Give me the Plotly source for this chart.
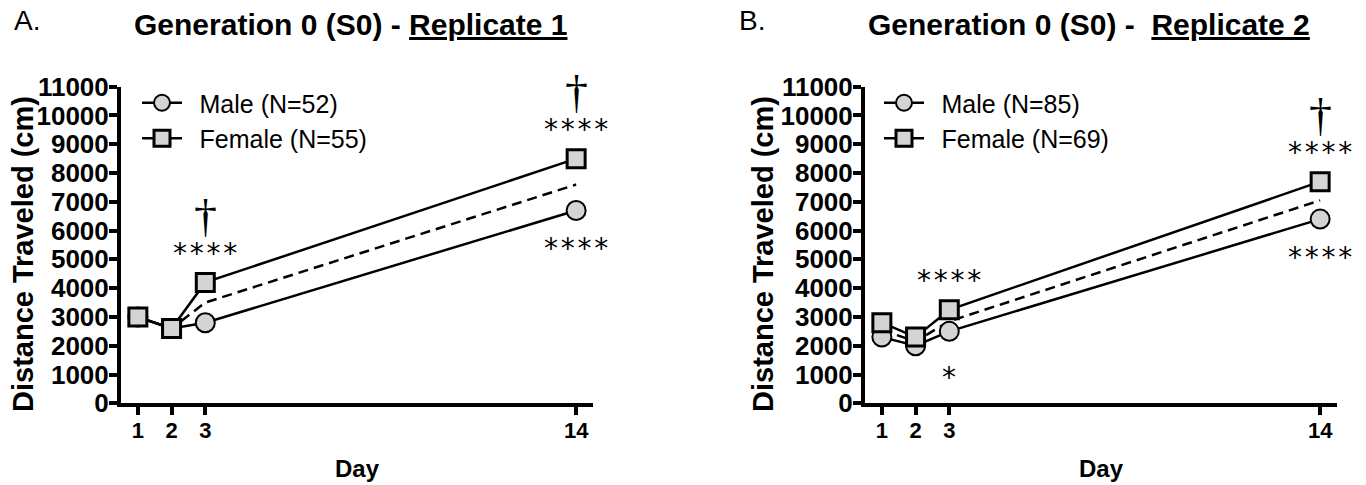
import plotly.graph_objects as go

# ---------------- data ----------------
days = [1, 2, 3, 14]
day_tick_text = ["1", "2", "3", "14"]
y_tick_vals = [0, 1000, 2000, 3000, 4000, 5000, 6000, 7000, 8000, 9000, 10000, 11000]
y_tick_text = ["0", "1000", "2000", "3000", "4000", "5000", "6000", "7000", "8000", "9000", "10000", "11000"]

rep1_male = [3000, 2600, 2800, 6700]
rep1_female = [3000, 2600, 4200, 8500]
rep1_mean = [3000, 2600, 3500, 7600]

rep2_male = [2300, 2000, 2500, 6400]
rep2_female = [2800, 2300, 3250, 7700]
rep2_mean = [2550, 2150, 2850, 7050]

rep1_names = ["Male (N=52)", "Female (N=55)"]
rep2_names = ["Male (N=85)", "Female (N=69)"]

panel_letters = ["A.", "B."]
panel_title_plain = ["Generation 0 (S0) - ", "Generation 0 (S0) -\u00a0 "]
panel_title_under = ["Replicate 1", "Replicate 2"]
y_title = "Distance Traveled (cm)"
x_title = "Day"

# significance marks: (panel, series, day index, text, kind)
sig_marks = [
    (0, "female", 2, "****", "above"),
    (0, "female", 2, "\u2020", "dagger"),
    (0, "female", 3, "****", "above"),
    (0, "female", 3, "\u2020", "dagger"),
    (0, "male", 3, "****", "below"),
    (1, "female", 2, "****", "above"),
    (1, "male", 2, "*", "below1"),
    (1, "female", 3, "****", "above"),
    (1, "female", 3, "\u2020", "dagger"),
    (1, "male", 3, "****", "below"),
]

# ---------------- style ----------------
W, H = 1366, 485
FONT = "Liberation Sans, Arial, sans-serif"
NARROW = "Liberation Sans Narrow, Liberation Sans, Arial, sans-serif"
GREY = "#d4d4d4"
BLACK = "#000000"

panels = [
    dict(male=rep1_male, female=rep1_female, mean=rep1_mean, names=rep1_names,
         xdom=(121, 593), legend="legend", lx=137, xa="x", ya="y", ytitle_x=23, title_x=350, letter_x=27),
    dict(male=rep2_male, female=rep2_female, mean=rep2_mean, names=rep2_names,
         xdom=(865, 1337), legend="legend2", lx=879, xa="x2", ya="y2", ytitle_x=763, title_x=1089, letter_x=752),
]
ydom_px = (86.7, 403.3)

fig = go.Figure()

for p in panels:
    fig.add_trace(go.Scatter(
        x=days, y=p["mean"], mode="lines", showlegend=False,
        line=dict(color=BLACK, width=2.5, dash="10px,6px"),
        xaxis=p["xa"], yaxis=p["ya"], hoverinfo="skip"))
    fig.add_trace(go.Scatter(
        x=days, y=p["male"], mode="lines+markers", name="\u2002" + p["names"][0],
        legend=p["legend"],
        line=dict(color=BLACK, width=2.5),
        marker=dict(symbol="circle", size=19, color=GREY, line=dict(color=BLACK, width=2)),
        xaxis=p["xa"], yaxis=p["ya"], cliponaxis=False))
    fig.add_trace(go.Scatter(
        x=days, y=p["female"], mode="lines+markers", name="\u2002" + p["names"][1],
        legend=p["legend"],
        line=dict(color=BLACK, width=2.5),
        marker=dict(symbol="square", size=18, color=GREY, line=dict(color=BLACK, width=3)),
        xaxis=p["xa"], yaxis=p["ya"], cliponaxis=False))

ylo = (H - ydom_px[1]) / H
yhi = (H - ydom_px[0]) / H

axis_common = dict(showgrid=False, zeroline=False, showline=True, linecolor=BLACK, linewidth=4,
                   ticks="outside", ticklen=8, tickwidth=4, tickcolor=BLACK, fixedrange=True,
                   automargin=False)

layout = dict(
    width=W, height=H, margin=dict(l=0, r=0, t=0, b=0, pad=0, autoexpand=False),
    paper_bgcolor="white", plot_bgcolor="white",
    font=dict(family=FONT, color=BLACK),
    showlegend=True,
)
annotations = []
for i, p in enumerate(panels):
    sfx = "" if i == 0 else "2"
    layout["xaxis" + sfx] = dict(
        axis_common, domain=[p["xdom"][0] / W, p["xdom"][1] / W], range=[0.5, 14.5],
        tickmode="array", tickvals=days, ticktext=day_tick_text,
        tickfont=dict(family=FONT, size=22, weight="bold"), ticklabelstandoff=-4,
        anchor="y" + sfx)
    layout["yaxis" + sfx] = dict(
        axis_common, domain=[ylo, yhi], range=[0, 11000],
        tickmode="array", tickvals=y_tick_vals, ticktext=y_tick_text,
        tickfont=dict(family=NARROW, size=26, weight="bold"), ticklabelstandoff=-5,
        anchor="x" + sfx)
    layout[p["legend"]] = dict(
        x=p["lx"] / W, y=(H - 80) / H, xanchor="left", yanchor="top",
        bgcolor="rgba(0,0,0,0)", font=dict(family=FONT, size=25, color=BLACK),
        itemwidth=40, tracegroupgap=0, itemclick=False, itemdoubleclick=False)
    # titles
    annotations.append(dict(
        text=panel_letters[i], x=p["letter_x"] / W, y=(H - 21) / H, xref="paper", yref="paper",
        showarrow=False, xanchor="center", yanchor="middle",
        font=dict(family=FONT, size=28, color=BLACK)))
    annotations.append(dict(
        text=panel_title_plain[i] + '<span style="text-decoration:underline">' + panel_title_under[i] + "</span>",
        x=p["title_x"] / W, y=(H - 24) / H, xref="paper", yref="paper",
        showarrow=False, xanchor="center", yanchor="middle",
        font=dict(family=FONT, size=30, weight="bold", color=BLACK)))
    annotations.append(dict(
        text=y_title, textangle=-90, x=p["ytitle_x"] / W, y=(H - 254) / H, xref="paper", yref="paper",
        showarrow=False, xanchor="center", yanchor="middle",
        font=dict(family=FONT, size=29, weight="bold", color=BLACK)))
    annotations.append(dict(
        text=x_title, x=0.5, y=(H - 468) / H, xref=("x" + sfx) + " domain", yref="paper",
        showarrow=False, xanchor="center", yanchor="middle",
        font=dict(family=FONT, size=24, weight="bold", color=BLACK)))

shift = {"above": 29, "dagger": 66, "below": -38, "below1": -46}
for (pi, series, di, text, kind) in sig_marks:
    p = panels[pi]
    sfx = "" if pi == 0 else "2"
    if kind == "dagger":
        fnt = dict(family="Liberation Serif, serif", size=46, color=BLACK)
    else:
        fnt = dict(family="DejaVu Sans, sans-serif", size=28, color=BLACK)
    txt = "\u200a".join(text) if len(text) > 1 else text
    annotations.append(dict(
        text=txt, x=days[di], y=p[series][di], xref="x" + sfx, yref="y" + sfx,
        showarrow=False, xanchor="center", yanchor="middle", yshift=shift[kind], font=fnt))

layout["annotations"] = annotations
fig.update_layout(**layout)
fig.write_html("out.html")
